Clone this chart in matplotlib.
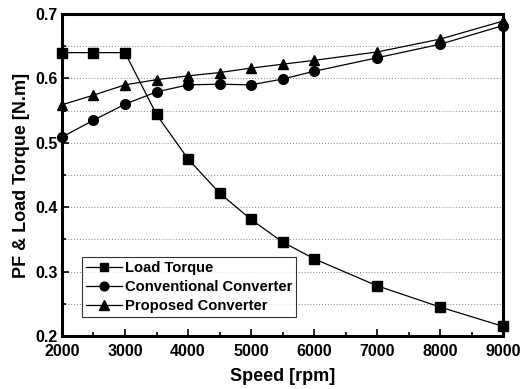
import matplotlib.pyplot as plt
from matplotlib.ticker import MultipleLocator

plt.rcParams['font.family'] = ['Liberation Sans', 'DejaVu Sans']
plt.rcParams['font.weight'] = 'bold'

# Data
speed = [2000, 2500, 3000, 3500, 4000, 4500, 5000, 5500, 6000, 7000, 8000, 9000]
load_torque = [0.640, 0.640, 0.640, 0.544, 0.475, 0.422, 0.381, 0.346, 0.320, 0.278, 0.245, 0.215]
conventional = [0.509, 0.535, 0.560, 0.579, 0.590, 0.591, 0.590, 0.599, 0.611, 0.632, 0.653, 0.682]
proposed = [0.559, 0.574, 0.590, 0.598, 0.604, 0.609, 0.616, 0.622, 0.628, 0.641, 0.661, 0.689]

fig = plt.figure(figsize=(5.2, 3.89), dpi=100)
ax = fig.add_axes([62 / 520, 1 - 336 / 389, 441 / 520, 322 / 389])

# Dotted horizontal grid
for y in [0.25, 0.3, 0.35, 0.4, 0.45, 0.5, 0.55, 0.6, 0.65]:
    ax.axhline(y, color='gray', linestyle=(0, (1, 2)), linewidth=0.7, zorder=0)

ax.plot(speed, load_torque, color='black', linewidth=0.9, marker='s', markersize=6.5,
        label='Load Torque', clip_on=False)
ax.plot(speed, conventional, color='black', linewidth=0.9, marker='o', markersize=7,
        label='Conventional Converter', clip_on=False)
ax.plot(speed, proposed, color='black', linewidth=0.9, marker='^', markersize=7.5,
        label='Proposed Converter', clip_on=False)

ax.set_xlim(2000, 9000)
ax.set_ylim(0.2, 0.7)
ax.xaxis.set_major_locator(MultipleLocator(1000))
ax.xaxis.set_minor_locator(MultipleLocator(500))
ax.yaxis.set_major_locator(MultipleLocator(0.1))
ax.yaxis.set_minor_locator(MultipleLocator(0.05))
ax.set_yticklabels([f"{v:.1f}" for v in ax.get_yticks()])

ax.tick_params(which='both', direction='in', labelsize=11.5, width=1.2)
ax.tick_params(which='major', length=5)
ax.tick_params(which='minor', length=3)
ax.tick_params(axis='x', pad=6)
ax.tick_params(axis='y', pad=3)
for s in ax.spines.values():
    s.set_linewidth(2.2)

ax.set_xlabel("Speed [rpm]", fontsize=13, fontweight='bold', labelpad=6)
ax.set_ylabel("PF & Load Torque [N.m]", fontsize=13, fontweight='bold', labelpad=4)

leg = ax.legend(loc='lower left', bbox_to_anchor=(0.045, 0.059), fontsize=10.6,
                frameon=True, fancybox=False, edgecolor='black', borderpad=0.25,
                borderaxespad=0, labelspacing=0.35, handlelength=2.5, handletextpad=0.15,
                markerscale=0.9)
leg.get_frame().set_linewidth(0.8)

fig.savefig("out.png", dpi=100)
